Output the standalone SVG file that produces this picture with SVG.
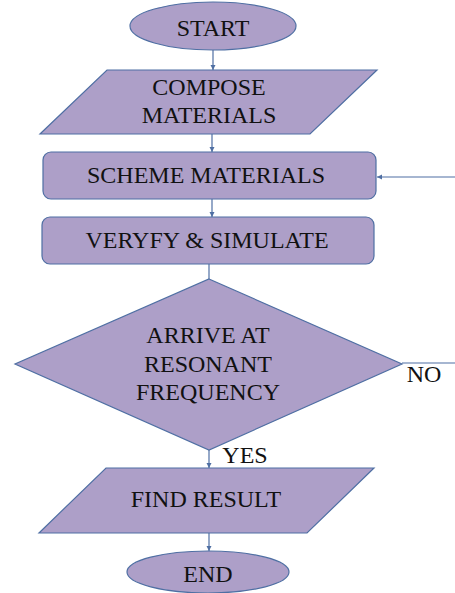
<svg xmlns="http://www.w3.org/2000/svg" width="455" height="593" viewBox="0 0 455 593">
<style>
.sh{fill:#ad9fc8;stroke:#4f6fa3;stroke-width:1.2}
.t{font-family:'Liberation Serif','Times New Roman',serif;font-size:24px;fill:#111;text-anchor:middle}
.c{stroke:#4f6fa3;stroke-width:1.2;fill:none}
</style>
<defs>
<marker id="ah" markerWidth="6" markerHeight="6" refX="5" refY="3" orient="auto" markerUnits="userSpaceOnUse">
<path d="M0,0.5 L5,3 L0,5.5 Z" fill="#4f6fa3"/>
</marker>
</defs>
<rect width="455" height="593" fill="#fff"/>
<g id="connectors">
<line class="c" x1="213" y1="50" x2="213" y2="70" marker-end="url(#ah)"/>
<line class="c" x1="212" y1="134" x2="212" y2="152" marker-end="url(#ah)"/>
<line class="c" x1="212" y1="199" x2="212" y2="217" marker-end="url(#ah)"/>
<line class="c" x1="455" y1="177" x2="377" y2="177" marker-end="url(#ah)"/>
<line class="c" x1="209" y1="264" x2="209" y2="279"/>
<line class="c" x1="402" y1="363" x2="455" y2="363"/>
<line class="c" x1="209" y1="450" x2="209" y2="468" marker-end="url(#ah)"/>
<line class="c" x1="209" y1="533" x2="209" y2="551" marker-end="url(#ah)"/>
<text class="t" x="424" y="382">NO</text>
<text class="t" x="245" y="463">YES</text>
</g>
<g id="start">
<ellipse class="sh" cx="213" cy="26" rx="83" ry="24"/>
<text class="t" x="213" y="36">START</text>
</g>
<g id="compose">
<polygon class="sh" points="107,70 377,70 310,134 40,134"/>
<text class="t" x="209" y="95">COMPOSE</text>
<text class="t" x="209" y="123">MATERIALS</text>
</g>
<g id="scheme">
<rect class="sh" x="43" y="152" width="333" height="47" rx="8"/>
<text class="t" x="206" y="183">SCHEME MATERIALS</text>
</g>
<g id="verify">
<rect class="sh" x="42" y="217" width="332" height="47" rx="8"/>
<text class="t" x="207" y="248">VERYFY &amp; SIMULATE</text>
</g>
<g id="decision">
<polygon class="sh" points="209,279 402,364 209,450 15,364"/>
<text class="t" x="208" y="343">ARRIVE AT</text>
<text class="t" x="208" y="372">RESONANT</text>
<text class="t" x="208" y="400">FREQUENCY</text>
</g>
<g id="find">
<polygon class="sh" points="106,468 374,468 307,533 39,533"/>
<text class="t" x="206" y="507">FIND RESULT</text>
</g>
<g id="end">
<ellipse class="sh" cx="208" cy="572" rx="81" ry="21"/>
<text class="t" x="208" y="582">END</text>
</g>
</svg>
